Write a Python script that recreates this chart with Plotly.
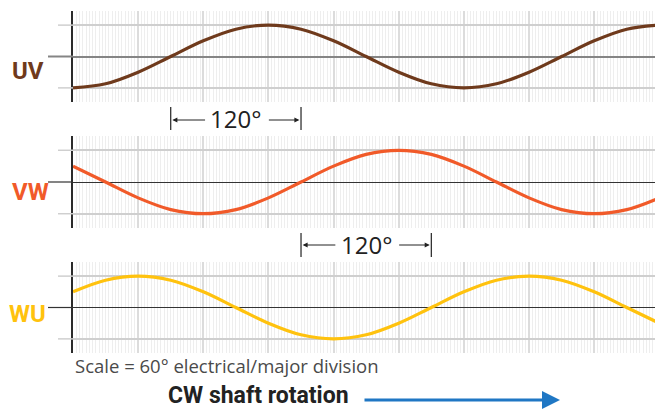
import plotly.graph_objects as go
from plotly.subplots import make_subplots

# electrical angle (degrees) and the three line voltages
degrees = [0, 30, 60, 90, 120, 150, 180, 210, 240, 270, 300, 330, 360, 390, 420, 450, 480, 510, 540]
uv = [-1, -0.87, -0.5, 0, 0.5, 0.87, 1, 0.87, 0.5, 0, -0.5, -0.87, -1, -0.87, -0.5, 0, 0.5, 0.87, 1]
vw = [0.5, 0, -0.5, -0.87, -1, -0.87, -0.5, 0, 0.5, 0.87, 1, 0.87, 0.5, 0, -0.5, -0.87, -1, -0.87, -0.5]
wu = [0.5, 0.87, 1, 0.87, 0.5, 0, -0.5, -0.87, -1, -0.87, -0.5, 0, 0.5, 0.87, 1, 0.87, 0.5, 0, -0.5]

labels = ["UV", "VW", "WU"]
colors = ["#6f3a1c", "#f15a29", "#ffc20e"]
series = [uv, vw, wu]

W, H = 655, 409
L = 73
PW = W - L

COND = "Roboto"


def px_x(px):
    return (px - L) / PW


def px_y(py):
    return 1 - py / H


fig = make_subplots(rows=3, cols=1)

domains = [(102, 11), (228, 136), (353, 262)]
label_pos = [(28, 71), (30, 192), (27, 314)]
zero_style = [("#858585", 2), ("#333333", 1.2), ("#333333", 1.2)]

for i in range(3):
    fig.add_trace(go.Scatter(x=degrees, y=series[i], mode="lines", line_shape="spline",
                             line=dict(color=colors[i], width=3.2), showlegend=False,
                             hoverinfo="skip"), row=i + 1, col=1)
    ax = "xaxis" if i == 0 else "xaxis%d" % (i + 1)
    ay = "yaxis" if i == 0 else "yaxis%d" % (i + 1)
    fig.layout[ax].update(range=[0, 536], tick0=0, dtick=60, showgrid=True,
                          gridcolor="#dcdcdc", gridwidth=2, showticklabels=False,
                          zeroline=False, showline=False, ticks="",
                          minor=dict(tick0=0, dtick=3, showgrid=True,
                                     gridcolor="#eeeeee", gridwidth=1, ticks=""))
    fig.layout[ay].update(domain=[px_y(domains[i][0]), px_y(domains[i][1])],
                          range=[-1.45, 1.45], tickvals=[-1, 1], showgrid=True,
                          gridcolor="#cfcfcf", gridwidth=1.5, showticklabels=False,
                          zeroline=True, zerolinecolor=zero_style[i][0],
                          zerolinewidth=zero_style[i][1], showline=True,
                          linecolor="#2b2b2b", linewidth=1.5, ticks="")
    yref = "y" if i == 0 else "y%d" % (i + 1)
    # short extensions of the reference lines to the left of the axis
    for v in [-1, 1]:
        fig.add_shape(type="line", xref="paper", yref=yref, x0=px_x(58), x1=0,
                      y0=v, y1=v, line=dict(color="#cfcfcf", width=1.5))
    fig.add_shape(type="line", xref="paper", yref=yref, x0=px_x(48), x1=0,
                  y0=0, y1=0, line=dict(color=zero_style[i][0], width=zero_style[i][1]))
    fig.add_annotation(text="<b>%s</b>" % labels[i], xref="paper", yref="paper",
                       x=px_x(label_pos[i][0]), y=px_y(label_pos[i][1]),
                       showarrow=False, xanchor="center", yanchor="middle",
                       font=dict(family=COND, size=24, color=colors[i]))

# 120 degree dimension markers
dims = [(90, 210, 120, 107, 130), (210, 330, 245, 233, 257)]
for a, b, yline, yt0, yt1 in dims:
    for xv in [a, b]:
        fig.add_shape(type="line", xref="x", yref="paper", x0=xv, x1=xv,
                      y0=px_y(yt0), y1=px_y(yt1), line=dict(color="#222222", width=1.2))
    mid = (a + b) / 2
    fig.add_annotation(text="120°", xref="x", yref="paper", x=mid, y=px_y(yline - 1),
                       showarrow=False, xanchor="center", yanchor="middle",
                       font=dict(family="Open Sans", size=24, color="#222222"))
    fig.add_annotation(text="", xref="x", yref="paper", x=a + 1.5, y=px_y(yline),
                       axref="x", ax=a + 33, ayref="pixel", ay=0, showarrow=True,
                       arrowhead=2, arrowsize=1, arrowwidth=1, arrowcolor="#222222")
    fig.add_annotation(text="", xref="x", yref="paper", x=b - 1.5, y=px_y(yline),
                       axref="x", ax=b - 31, ayref="pixel", ay=0, showarrow=True,
                       arrowhead=2, arrowsize=1, arrowwidth=1, arrowcolor="#222222")

fig.add_annotation(text="Scale = 60° electrical/major division", xref="paper", yref="paper",
                   x=0, y=px_y(365), showarrow=False, xanchor="left", yanchor="middle",
                   font=dict(family="Open Sans", size=18.5, color="#4a4a4a"))
fig.add_annotation(text="<b>CW shaft rotation</b>", xref="paper", yref="paper",
                   x=px_x(258), y=px_y(395), showarrow=False, xanchor="center", yanchor="middle",
                   borderpad=0, font=dict(family=COND, size=23, color="#222222"))
fig.add_annotation(text="", xref="paper", yref="paper", x=px_x(560), y=px_y(400),
                   ax=-197, ay=0, showarrow=True, arrowhead=2, arrowsize=1.2,
                   arrowwidth=3, arrowcolor="#1f77c4")

fig.update_layout(width=W, height=H, margin=dict(l=L, r=0, t=0, b=0),
                  plot_bgcolor="white", paper_bgcolor="white", showlegend=False)

# the page's default body margin would shift the figure by 8px
fig.write_html("out.html", config={"displayModeBar": False},
               post_script="document.body.style.margin='0';document.body.style.overflow='hidden';")
